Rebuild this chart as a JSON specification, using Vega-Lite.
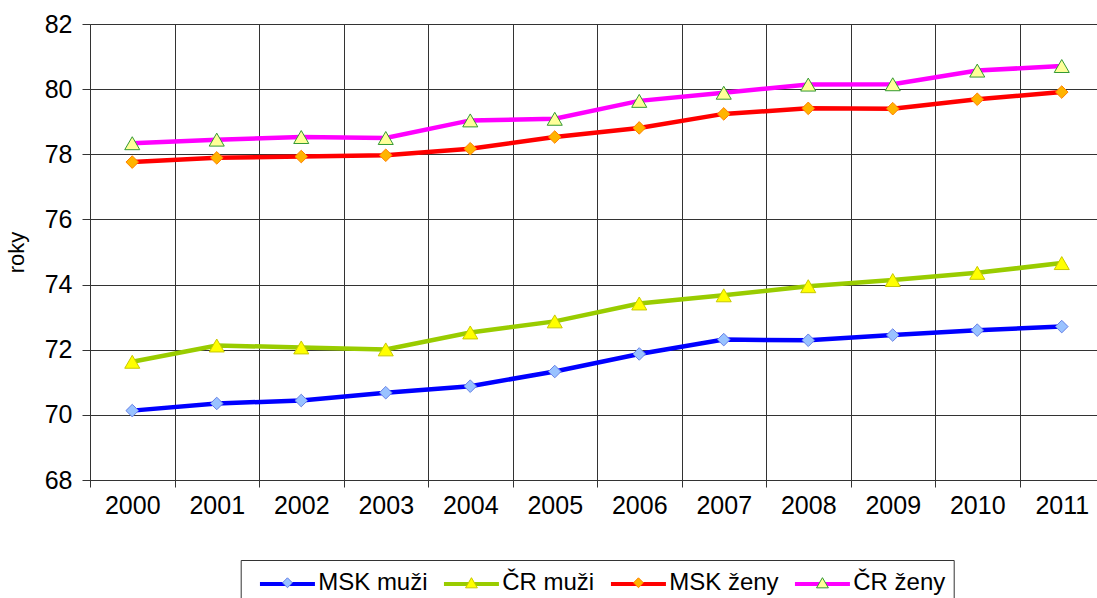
{
  "$schema": "https://vega.github.io/schema/vega-lite/v6.json",
  "width": 1007,
  "height": 456,
  "autosize": {"type": "none"},
  "padding": {"left": 90, "top": 24, "right": 0, "bottom": 118},
  "config": {
    "font": "Liberation Sans",
    "view": {"stroke": null},
    "axis": {
      "labelFont": "Liberation Sans",
      "labelColor": "#000000",
      "labelFontSize": 25,
      "gridColor": "#333333",
      "gridOpacity": 1,
      "domainColor": "#333333",
      "tickColor": "#333333",
      "titleFont": "Liberation Sans",
      "titleColor": "#000000"
    },
    "legend": {
      "labelFont": "Liberation Sans",
      "labelColor": "#000000"
    }
  },
  "data": {
    "values": [
      {"year": "2000", "series": "MSK muži", "value": 70.13},
      {"year": "2001", "series": "MSK muži", "value": 70.35},
      {"year": "2002", "series": "MSK muži", "value": 70.44},
      {"year": "2003", "series": "MSK muži", "value": 70.68},
      {"year": "2004", "series": "MSK muži", "value": 70.88},
      {"year": "2005", "series": "MSK muži", "value": 71.33},
      {"year": "2006", "series": "MSK muži", "value": 71.87},
      {"year": "2007", "series": "MSK muži", "value": 72.31},
      {"year": "2008", "series": "MSK muži", "value": 72.29},
      {"year": "2009", "series": "MSK muži", "value": 72.45},
      {"year": "2010", "series": "MSK muži", "value": 72.6},
      {"year": "2011", "series": "MSK muži", "value": 72.71},
      {"year": "2000", "series": "ČR muži", "value": 71.63},
      {"year": "2001", "series": "ČR muži", "value": 72.13},
      {"year": "2002", "series": "ČR muži", "value": 72.07},
      {"year": "2003", "series": "ČR muži", "value": 72.01},
      {"year": "2004", "series": "ČR muži", "value": 72.53},
      {"year": "2005", "series": "ČR muži", "value": 72.87},
      {"year": "2006", "series": "ČR muži", "value": 73.42},
      {"year": "2007", "series": "ČR muži", "value": 73.67},
      {"year": "2008", "series": "ČR muži", "value": 73.95},
      {"year": "2009", "series": "ČR muži", "value": 74.14},
      {"year": "2010", "series": "ČR muži", "value": 74.36},
      {"year": "2011", "series": "ČR muži", "value": 74.66},
      {"year": "2000", "series": "MSK ženy", "value": 77.76},
      {"year": "2001", "series": "MSK ženy", "value": 77.89},
      {"year": "2002", "series": "MSK ženy", "value": 77.93},
      {"year": "2003", "series": "MSK ženy", "value": 77.97},
      {"year": "2004", "series": "MSK ženy", "value": 78.17},
      {"year": "2005", "series": "MSK ženy", "value": 78.53},
      {"year": "2006", "series": "MSK ženy", "value": 78.81},
      {"year": "2007", "series": "MSK ženy", "value": 79.24},
      {"year": "2008", "series": "MSK ženy", "value": 79.41},
      {"year": "2009", "series": "MSK ženy", "value": 79.4},
      {"year": "2010", "series": "MSK ženy", "value": 79.69},
      {"year": "2011", "series": "MSK ženy", "value": 79.91},
      {"year": "2000", "series": "ČR ženy", "value": 78.34},
      {"year": "2001", "series": "ČR ženy", "value": 78.45},
      {"year": "2002", "series": "ČR ženy", "value": 78.53},
      {"year": "2003", "series": "ČR ženy", "value": 78.5},
      {"year": "2004", "series": "ČR ženy", "value": 79.04},
      {"year": "2005", "series": "ČR ženy", "value": 79.09},
      {"year": "2006", "series": "ČR ženy", "value": 79.64},
      {"year": "2007", "series": "ČR ženy", "value": 79.89},
      {"year": "2008", "series": "ČR ženy", "value": 80.14},
      {"year": "2009", "series": "ČR ženy", "value": 80.15},
      {"year": "2010", "series": "ČR ženy", "value": 80.57},
      {"year": "2011", "series": "ČR ženy", "value": 80.71}
    ]
  },
  "encoding": {
    "x": {
      "field": "year",
      "type": "ordinal",
      "scale": {"range": [0, 1014], "paddingInner": 0, "paddingOuter": 0},
      "axis": {
        "title": null,
        "grid": true,
        "tickBand": "extent",
        "tickSize": 7,
        "labelPadding": 6,
        "labelAngle": 0
      }
    },
    "y": {
      "field": "value",
      "type": "quantitative",
      "scale": {"domain": [68, 82], "nice": false, "zero": false},
      "axis": {
        "title": "roky",
        "values": [68, 70, 72, 74, 76, 78, 80, 82],
        "tickSize": 8,
        "labelPadding": 10,
        "titleFontSize": 22,
        "titleFontWeight": "normal",
        "titlePadding": 16
      }
    }
  },
  "layer": [
    {
      "mark": {"type": "line", "strokeWidth": 4.5},
      "encoding": {
        "color": {
          "field": "series",
          "type": "nominal",
          "sort": ["MSK muži", "ČR muži", "MSK ženy", "ČR ženy"],
          "scale": {"range": ["#0000FF", "#99CC00", "#FF0000", "#FF00FF"]},
          "legend": {
            "title": null,
            "orient": "none",
            "legendX": 150.7,
            "legendY": 536,
            "direction": "horizontal",
            "columns": 4,
            "padding": 8,
            "symbolType": "M-2,0L2,0",
            "symbolSize": 756,
            "symbolStrokeWidth": 4,
            "symbolOffset": 22.75,
            "labelOffset": 14.75,
            "labelFontSize": 24,
            "labelOpacity": 0,
            "columnPadding": 5,
            "encode": {
              "labels": {
                "update": {
                  "dy": {"value": -42}
                }
              }
            }
          }
        }
      }
    },
    {
      "mark": {"type": "point", "opacity": 1, "strokeWidth": 1, "size": 1225},
      "encoding": {
        "shape": {
          "field": "series",
          "type": "nominal",
          "scale": {
            "domain": ["MSK muži", "ČR muži", "MSK ženy", "ČR ženy"],
            "range": [
              "M0,-0.36L0.36,0L0,0.36L-0.36,0Z",
              "M0,-0.37L0.43,0.37L-0.43,0.37Z",
              "M0,-0.36L0.36,0L0,0.36L-0.36,0Z",
              "M0,-0.37L0.43,0.37L-0.43,0.37Z"
            ]
          },
          "legend": {
            "title": null,
            "orient": "none",
            "legendX": 150.7,
            "legendY": 536,
            "direction": "horizontal",
            "columns": 4,
            "padding": 8,
            "strokeColor": "#333333",
            "symbolSize": 756,
            "symbolStrokeWidth": 1,
            "symbolOffset": 24.25,
            "labelOffset": 16.25,
            "labelFontSize": 24,
            "columnPadding": 5
          }
        },
        "fill": {
          "field": "series",
          "type": "nominal",
          "scale": {
            "domain": ["MSK muži", "ČR muži", "MSK ženy", "ČR ženy"],
            "range": ["#99C2FF", "#FFFF00", "#FFB400", "#FFFF99"]
          }
        },
        "stroke": {
          "field": "series",
          "type": "nominal",
          "scale": {
            "domain": ["MSK muži", "ČR muži", "MSK ženy", "ČR ženy"],
            "range": ["#6680E6", "#C8C800", "#FF7F00", "#339933"]
          }
        }
      }
    }
  ]
}
